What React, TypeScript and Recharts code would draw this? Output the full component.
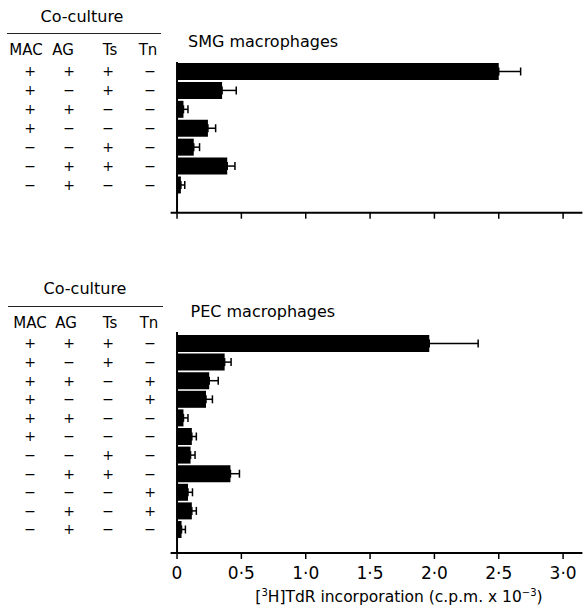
import React from "react";
import { BarChart, Bar, XAxis, YAxis, ErrorBar, ReferenceLine } from "recharts";

const FONT = '"DejaVu Sans", sans-serif';

const xTicks = [0, 0.5, 1.0, 1.5, 2.0, 2.5, 3.0];
const xTickLabels = ["0", "0·5", "1·0", "1·5", "2·0", "2·5", "3·0"];

// SMG macrophages
const smgMAC = ["+", "+", "+", "+", "−", "−", "−"];
const smgAG = ["+", "−", "+", "−", "−", "+", "+"];
const smgTs = ["+", "+", "−", "−", "+", "+", "−"];
const smgTn = ["−", "−", "−", "−", "−", "−", "−"];
const smgValues = [2.5, 0.35, 0.05, 0.24, 0.13, 0.39, 0.03];
const smgErrors = [0.17, 0.11, 0.035, 0.06, 0.045, 0.06, 0.03];

// PEC macrophages
const pecMAC = ["+", "+", "+", "+", "+", "+", "−", "−", "−", "−", "−"];
const pecAG = ["+", "−", "+", "−", "+", "−", "−", "+", "−", "+", "+"];
const pecTs = ["+", "+", "−", "−", "−", "−", "+", "+", "−", "−", "−"];
const pecTn = ["−", "−", "+", "+", "−", "−", "−", "−", "+", "+", "−"];
const pecValues = [1.96, 0.37, 0.25, 0.225, 0.05, 0.115, 0.105, 0.415, 0.085, 0.115, 0.035];
const pecErrors = [0.38, 0.05, 0.07, 0.05, 0.035, 0.035, 0.035, 0.07, 0.035, 0.035, 0.03];

const COL_X = [30, 69, 108, 150];

function buildRows(cols: string[][], values: number[], errors: number[]) {
  return values.map((v, i) => ({
    name: cols.map((c) => c[i]).join(" ") + " #" + i,
    value: v,
    err: [0, errors[i]],
  }));
}

function SignTick(props: any) {
  const { y, index, cols } = props;
  return (
    <g>
      {cols.map((c: string[], j: number) => (
        <text
          key={j}
          x={COL_X[j]}
          y={y}
          textAnchor="middle"
          dominantBaseline="central"
          fontFamily={FONT}
          fontSize={14}
          fill="#000"
        >
          {c[index]}
        </text>
      ))}
    </g>
  );
}

function Panel({ rows, cols, height, top, padTop, padBottom, showLabels }: any) {
  return (
    <BarChart
      width={587}
      height={height}
      data={rows}
      layout="vertical"
      margin={{ top, right: 4.6, bottom: showLabels ? 29 : 7.3, left: 0 }}
      barSize={17}
    >
      <XAxis
        type="number"
        domain={[-0.05, 3.15]}
        ticks={xTicks}
        interval={0}
        height={showLabels ? 30 : 20}
        axisLine={{ stroke: "#000", strokeWidth: 2 }}
        tickLine={{ stroke: "#000", strokeWidth: 1.5 }}
        tickSize={6}
        tickMargin={8}
        tick={{ fill: "#000", fontSize: 17, fontFamily: FONT }}
        tickFormatter={(v: number) => (showLabels ? xTickLabels[xTicks.indexOf(v)] : "")}
      />
      <YAxis
        type="category"
        dataKey="name"
        width={170.6}
        interval={0}
        axisLine={false}
        tickLine={false}
        padding={{ top: padTop, bottom: padBottom }}
        tick={(p: any) => <SignTick {...p} cols={cols} />}
      />
      <ReferenceLine x={0} stroke="#000" strokeWidth={2} />
      <Bar dataKey="value" fill="#000" isAnimationActive={false}>
        <ErrorBar dataKey="err" direction="x" width={4} stroke="#000" strokeWidth={1.5} />
      </Bar>
    </BarChart>
  );
}

function Label({ x, y, size, center, children }: any) {
  return (
    <div
      style={{
        position: "absolute",
        left: x,
        top: y,
        transform: center ? "translate(-50%, -50%)" : "translateY(-50%)",
        fontFamily: FONT,
        fontSize: size,
        lineHeight: 1,
        whiteSpace: "nowrap",
        color: "#000",
      }}
    >
      {children}
    </div>
  );
}

function TableHead({ y, line, heads }: any) {
  return (
    <>
      <Label x={line.c} y={y} size={16} center>
        Co-culture
      </Label>
      <div
        style={{
          position: "absolute",
          left: line.x1,
          width: line.x2 - line.x1,
          top: line.y,
          height: 1.5,
          background: "#222",
        }}
      />
      {["MAC", "AG", "Ts", "Tn"].map((h, i) => (
        <Label key={h} x={heads.xs[i]} y={heads.y} size={15} center>
          {h}
        </Label>
      ))}
    </>
  );
}

export default function App() {
  const smgRows = buildRows([smgMAC, smgAG, smgTs, smgTn], smgValues, smgErrors);
  const pecRows = buildRows([pecMAC, pecAG, pecTs, pecTn], pecValues, pecErrors);
  return (
    <div style={{ position: "absolute", left: 0, top: 0, width: 587, height: 612, background: "#fff" }}>
      <div style={{ position: "absolute", left: 0, top: 0 }}>
        <Panel
          rows={smgRows}
          cols={[smgMAC, smgAG, smgTs, smgTn]}
          height={240}
          top={62}
          padTop={0}
          padBottom={18.3}
          showLabels={false}
        />
      </div>
      <div style={{ position: "absolute", left: 0, top: 280 }}>
        <Panel
          rows={pecRows}
          cols={[pecMAC, pecAG, pecTs, pecTn]}
          height={332}
          top={52}
          padTop={2}
          padBottom={14.4}
          showLabels
        />
      </div>

      <TableHead y={17} line={{ c: 82, x1: 7, x2: 161, y: 32.5 }} heads={{ y: 50, xs: [26, 63, 110, 148] }} />
      <TableHead y={289} line={{ c: 85, x1: 8, x2: 163, y: 305.5 }} heads={{ y: 323, xs: [30, 66, 110, 149] }} />

      <Label x={188} y={42} size={16}>
        SMG macrophages
      </Label>
      <Label x={190.5} y={311.5} size={16}>
        PEC macrophages
      </Label>

      <Label x={399} y={597} size={15.5} center>
        [<sup style={{ fontSize: 10, verticalAlign: "6px" }}>3</sup>H]TdR incorporation (c.p.m. x 10
        <sup style={{ fontSize: 10, verticalAlign: "6px" }}>−3</sup>)
      </Label>
    </div>
  );
}
